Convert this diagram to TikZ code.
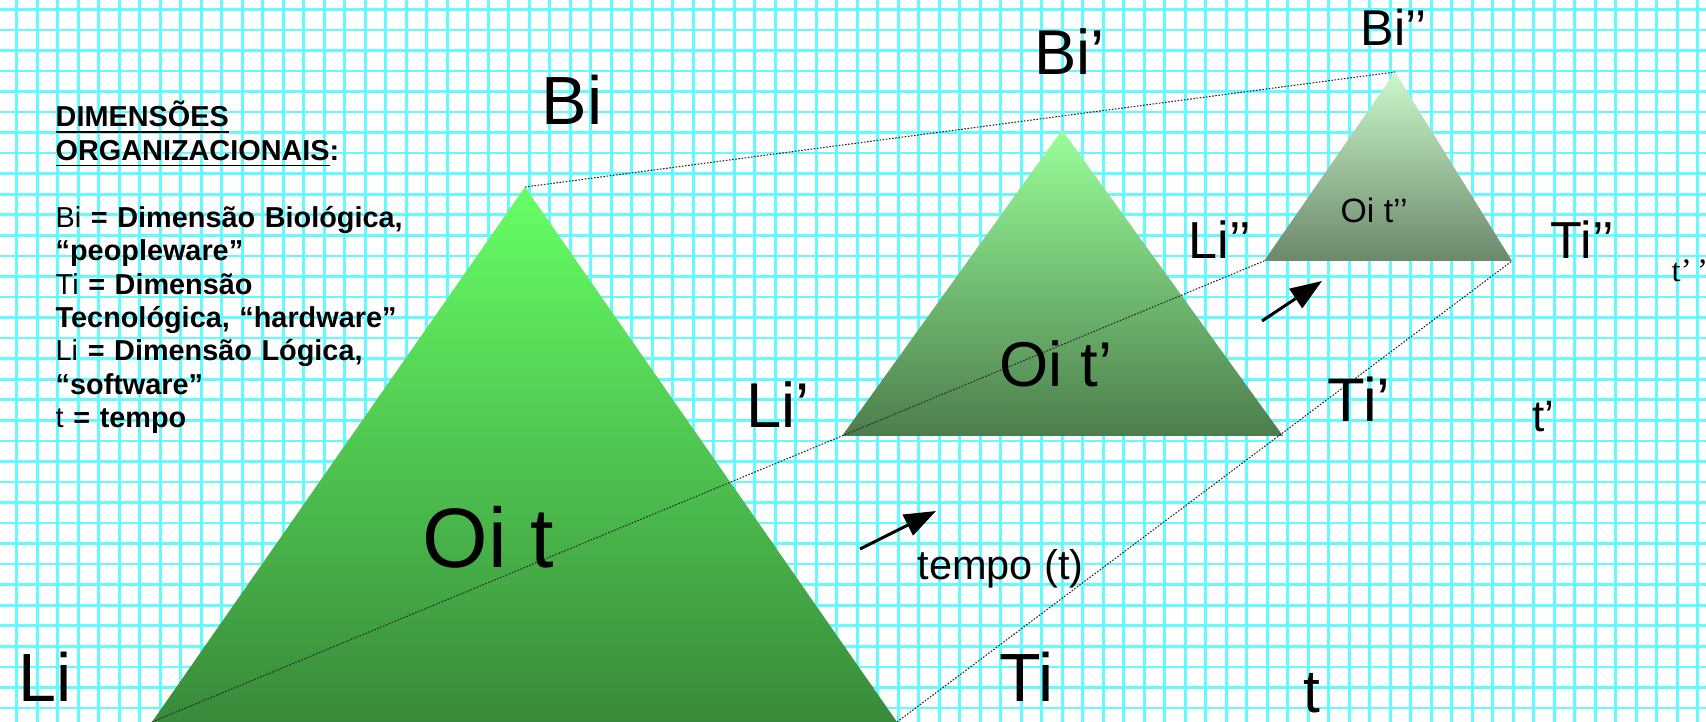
\documentclass[tikz,border=0pt]{standalone}
\usepackage{fontspec}
\setmainfont{Liberation Sans}
\newfontfamily\timesfont{Liberation Serif}
\usetikzlibrary{arrows.meta}
\newcommand\fsz[1]{\fontsize{#1}{#1}\selectfont}

\begin{document}
\begin{tikzpicture}[x=0.01cm,y=-0.01cm,
  gridline/.style={draw={rgb,255:red,100;green,250;blue,255},line width=0.75pt},
  tag/.style={inner sep=0pt,anchor=base west},
  edge/.style={black!85,line width=0.3pt,dash pattern=on 0.45pt off 0.45pt},
  push/.style={-{Triangle[length=9pt,width=6.5pt]},line width=0.85pt}]
  \useasboundingbox (0,0) rectangle (1706,722);
  \fill[white] (0,0) rectangle (1706,722);
  \foreach \k in {0,...,82} \draw[gridline] ({16.7+20.5*\k},0) -- ++(0,722);
  \foreach \k in {0,...,34} \draw[gridline] (0,{9.3+20.55*\k}) -- ++(1706,0);

  % vertices of the three organisations
  \coordinate (bi0) at (525,187);  \coordinate (li0) at (152,722);  \coordinate (ti0) at (897,722);
  \coordinate (bi1) at (1062,130); \coordinate (li1) at (842,436);  \coordinate (ti1) at (1283,436);
  \coordinate (bi2) at (1395,72);  \coordinate (li2) at (1264,261); \coordinate (ti2) at (1512,261);

  \shade[top color={rgb,255:red,102;green,255;blue,102},bottom color={rgb,255:red,56;green,138;blue,58}]
    (bi0) -- (li0) -- (ti0) -- cycle;
  \shade[top color={rgb,255:red,153;green,255;blue,153},bottom color={rgb,255:red,76;green,125;blue,76}]
    (bi1) -- (li1) -- (ti1) -- cycle;
  \shade[top color={rgb,255:red,204;green,248;blue,204},bottom color={rgb,255:red,107;green,136;blue,107}]
    (bi2) -- (li2) -- (ti2) -- cycle;

  \draw[edge] (bi0) -- (bi2);
  \draw[edge] (li0) -- (li2);
  \draw[edge] (ti0) -- (ti2);

  \coordinate (a0) at (860,549);  \coordinate (a1) at (936,511);
  \coordinate (b0) at (1262,321); \coordinate (b1) at (1322,281);
  \draw[push] (a0) -- (a1);
  \draw[push] (b0) -- (b1);

  \node[tag,font=\fsz{19.4}] (Bi) at (541,125) {Bi};
  \node[tag,font=\fsz{19.4}] (Li) at (18,702) {Li};
  \node[tag,font=\fsz{19.4}] (Ti) at (999,702) {Ti};
  \node[tag,font=\fsz{17.2}] (t) at (1303,712) {t};
  \node[tag,font=\fsz{24}] (Oit) at (422,568) {Oi t};

  \node[tag,font=\fsz{18}] (Bi1) at (1034,75) {Bi’};
  \node[tag,font=\fsz{18}] (Li1) at (746,428) {Li’};
  \node[tag,font=\fsz{17.5}] (Ti1) at (1327,422) {Ti’};
  \node[tag,font=\fsz{12.5}] (t1) at (1532,432) {t’};
  \node[tag,font=\fsz{18}] (Oit1) at (999,387) {Oi t’};

  \node[tag,font=\fsz{14.3}] (Bi2) at (1360,46) {Bi’’};
  \node[tag,font=\fsz{14.8}] (Li2) at (1188,259) {Li’’};
  \node[tag,font=\fsz{14.8}] (Ti2) at (1550,259) {Ti’’};
  \node[tag,font=\fsz{9.3}\timesfont] (t2) at (1671,282) {t’\,’};
  \node[tag,font=\fsz{9.6}] (Oit2) at (1340,223) {Oi t’’};

  \node[tag,font=\fsz{11.8}] (tempo) at (917,580) {tempo (t)};

  \node[tag,text width=6cm,align=left,font=\fontsize{8.2}{9.5}\selectfont\bfseries] (legend) at (55,127)
    {\underline{DIMENSÕES}\\
     \underline{ORGANIZACIONAIS}:\\[9.5pt]
     {\mdseries Bi} = Dimensão Biológica,\\
     “peopleware”\\
     {\mdseries Ti} = Dimensão\\
     Tecnológica, “hardware”\\
     {\mdseries Li} = Dimensão Lógica,\\
     “software”\\
     {\mdseries t} = tempo};
\end{tikzpicture}
\end{document}
